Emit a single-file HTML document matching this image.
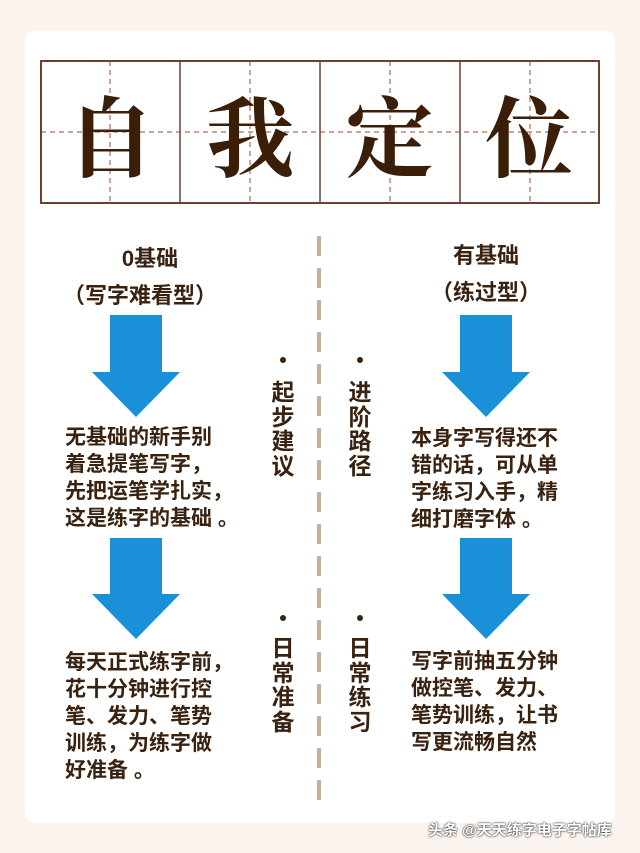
<!DOCTYPE html>
<html><head><meta charset="utf-8"><style>
body{margin:0;width:640px;height:853px;background:#faf3ee;position:relative;overflow:hidden;font-family:"Liberation Sans","Noto Sans CJK SC",sans-serif;color:#3a2210}
.card{position:absolute;left:25px;top:31px;width:590px;height:792px;background:#fff;border-radius:10px}
.t{position:absolute;font-weight:bold;white-space:nowrap}
.p{position:absolute;font-weight:bold;font-size:21px;line-height:27px;white-space:nowrap}
.v{position:absolute;font-weight:bold;font-size:23px;line-height:24.5px;width:24px;text-align:center}
.dot{position:absolute;width:6px;height:6px;border-radius:3px;background:#3a2210}
</style></head><body>
<div class="card"></div>
<svg style="position:absolute;left:0;top:0" width="640" height="853">
<rect x="41" y="61" width="558" height="142" fill="#fff" stroke="#6b4030" stroke-width="2"/>
<g stroke="#6b4030" stroke-width="1.5"><line x1="180" y1="61" x2="180" y2="203"/><line x1="320" y1="61" x2="320" y2="203"/><line x1="460" y1="61" x2="460" y2="203"/></g>
<g stroke="#9a4a30" stroke-width="1" stroke-dasharray="5,4"><line x1="41" y1="132" x2="599" y2="132"/><line x1="110" y1="61" x2="110" y2="203"/><line x1="250" y1="61" x2="250" y2="203"/><line x1="390" y1="61" x2="390" y2="203"/><line x1="530" y1="61" x2="530" y2="203"/></g>
<line x1="319" y1="236" x2="319" y2="805" stroke="#c9af96" stroke-width="4" stroke-dasharray="20,12"/>
<g fill="#1a90d8">
<polygon points="110,315 162,315 162,372 180,372 136,417 92,372 110,372"/>
<polygon points="110,538 162,538 162,594 180,594 136,639 92,594 110,594"/>
<polygon points="460,315 512,315 512,372 530,372 486,417 442,372 460,372"/>
<polygon points="460,538 512,538 512,594 530,594 486,639 442,594 460,594"/>
</g>
</svg>
<div class="t" style="left:41px;top:68px;width:558px;display:flex;font-family:'Noto Serif CJK SC',serif;font-size:88px;line-height:130px;font-weight:bold;color:#3a1e08">
<span style="width:140px;text-align:center">自</span><span style="width:140px;text-align:center">我</span><span style="width:140px;text-align:center">定</span><span style="width:140px;text-align:center">位</span></div>
<div class="t" style="left:50px;width:200px;text-align:center;top:241px;font-size:22px">0基础</div>
<div class="t" style="left:40px;width:200px;text-align:center;top:278px;font-size:22px">（写字难看型）</div>
<div class="t" style="left:386px;width:200px;text-align:center;top:238px;font-size:22px">有基础</div>
<div class="t" style="left:386px;width:200px;text-align:center;top:275px;font-size:22px">（练过型）</div>
<div class="p" style="left:65px;top:424px">无基础的新手别<br>着急提笔写字，<br>先把运笔学扎实，<br>这是练字的基础 。</div>
<div class="p" style="left:65px;top:649px">每天正式练字前，<br>花十分钟进行控<br>笔、发力、笔势<br>训练，为练字做<br>好准备 。</div>
<div class="p" style="left:411px;top:425px">本身字写得还不<br>错的话，可从单<br>字练习入手，精<br>细打磨字体 。</div>
<div class="p" style="left:411px;top:648px">写字前抽五分钟<br>做控笔、发力、<br>笔势训练，让书<br>写更流畅自然</div>
<div class="dot" style="left:280px;top:357px"></div><div class="dot" style="left:357px;top:357px"></div>
<div class="dot" style="left:280px;top:615px"></div><div class="dot" style="left:357px;top:615px"></div>
<div class="v" style="left:271px;top:380px">起步建议</div>
<div class="v" style="left:348px;top:380px">进阶路径</div>
<div class="v" style="left:271px;top:636px">日常准备</div>
<div class="v" style="left:348px;top:636px">日常练习</div>
<div class="t" style="left:428px;top:819px;font-size:15px;color:#fff;text-shadow:0 0 2px #333,0 0 1px #333">头条 @天天练字电子字帖库</div>
</body></html>
